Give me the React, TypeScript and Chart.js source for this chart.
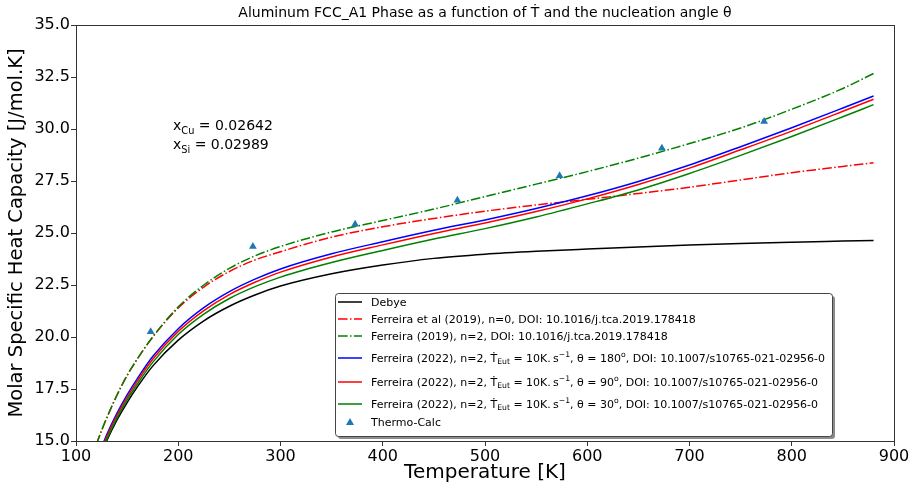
import React, { useEffect, useRef } from "react";
import { Chart, registerables } from "chart.js";

Chart.register(...registerables);

// ---- data ----
const temperatureK = [120, 125, 130, 140, 150, 160, 175, 200, 225, 250, 275, 300, 350, 400, 450, 500, 550, 600, 650, 700, 750, 800, 850, 880];
const debyeCp = [13.8, 14.4, 15.0, 16.0, 16.85, 17.6, 18.6, 19.85, 20.78, 21.48, 22.02, 22.45, 23.04, 23.46, 23.78, 23.98, 24.12, 24.23, 24.33, 24.42, 24.5, 24.56, 24.61, 24.64];
const ferreira2019n0Cp = [14.85, 15.5, 16.1, 17.2, 18.15, 18.95, 20.0, 21.4, 22.4, 23.15, 23.7, 24.1, 24.8, 25.3, 25.7, 26.05, 26.35, 26.62, 26.9, 27.2, 27.55, 27.9, 28.2, 28.38];
const ferreira2019n2Cp = [14.85, 15.5, 16.1, 17.2, 18.15, 18.95, 20.0, 21.45, 22.5, 23.3, 23.9, 24.35, 25.05, 25.6, 26.15, 26.75, 27.35, 27.95, 28.6, 29.3, 30.05, 30.95, 31.95, 32.67];
const ferreira2022theta180Cp = [14.08, 14.69, 15.3, 16.33, 17.22, 18.0, 19.06, 20.4, 21.41, 22.18, 22.78, 23.27, 24.0, 24.58, 25.13, 25.63, 26.18, 26.79, 27.48, 28.27, 29.15, 30.06, 31.01, 31.59];
const ferreira2022theta90Cp = [13.98, 14.59, 15.2, 16.22, 17.1, 17.88, 18.93, 20.27, 21.27, 22.04, 22.63, 23.12, 23.85, 24.43, 24.98, 25.48, 26.03, 26.64, 27.33, 28.12, 29.0, 29.9, 30.85, 31.43];
const ferreira2022theta30Cp = [13.88, 14.49, 15.08, 16.1, 16.98, 17.74, 18.78, 20.12, 21.1, 21.85, 22.42, 22.88, 23.58, 24.16, 24.71, 25.21, 25.77, 26.4, 27.07, 27.86, 28.73, 29.64, 30.59, 31.17];
const thermoCalcT = [173, 273, 373, 473, 573, 673, 773];
const thermoCalcCp = [20.25, 24.35, 25.42, 26.57, 27.75, 29.08, 30.36];

const xTicks = [100, 200, 300, 400, 500, 600, 700, 800, 900];
const yTicks = [15, 17.5, 20, 22.5, 25, 27.5, 30, 32.5, 35];

const titleText = "Aluminum FCC_A1 Phase as a function of \u1E6A and the nucleation angle \u03B8";
const xTitle = "Temperature [K]";
const yTitle = "Molar Specific Heat Capacity [J/mol.K]";

type Seg = { t: string; k?: "sub" | "sup" };
const annotationLines: Seg[][] = [
  [{ t: "x" }, { t: "Cu", k: "sub" }, { t: " = 0.02642" }],
  [{ t: "x" }, { t: "Si", k: "sub" }, { t: " = 0.02989" }],
];

const seriesNames = [
  "Debye",
  "Ferreira et al (2019), n=0, DOI: 10.1016/j.tca.2019.178418",
  "Ferreira (2019), n=2, DOI: 10.1016/j.tca.2019.178418",
  "Ferreira (2022), n=2, \u1E6AEut = 10K.s-1, \u03B8 = 180o, DOI: 10.1007/s10765-021-02956-0",
  "Ferreira (2022), n=2, \u1E6AEut = 10K.s-1, \u03B8 = 90o, DOI: 10.1007/s10765-021-02956-0",
  "Ferreira (2022), n=2, \u1E6AEut = 10K.s-1, \u03B8 = 30o, DOI: 10.1007/s10765-021-02956-0",
  "Thermo-Calc",
];

const rate = (angle: string): Seg[] => [
  { t: "Ferreira (2022), n=2, \u1E6A" },
  { t: "Eut", k: "sub" },
  { t: " = 10K.\u2009s" },
  { t: "\u22121", k: "sup" },
  { t: ", \u03B8 = " + angle },
  { t: "o", k: "sup" },
  { t: ", DOI: 10.1007/s10765-021-02956-0" },
];
const legendRich: Seg[][] = [
  [{ t: seriesNames[0] }],
  [{ t: seriesNames[1] }],
  [{ t: seriesNames[2] }],
  rate("180"),
  rate("90"),
  rate("30"),
  [{ t: seriesNames[6] }],
];

const seriesColors = ["#000000", "#ff0000", "#008000", "#0000ff", "#ff0000", "#008000", "#1f77b4"];
const DASHDOT = [9.6, 2.4, 1.5, 2.4];
const seriesDash = [[], DASHDOT, DASHDOT, [], [], [], []];

const FONT = '"DejaVu Sans", "Liberation Sans", sans-serif';

function drawRich(ctx: CanvasRenderingContext2D, segs: Seg[], x: number, y: number, size: number) {
  let cx = x;
  for (const s of segs) {
    let fs = size;
    let dy = 0;
    if (s.k === "sub") { fs = size * 0.7; dy = size * 0.28; }
    if (s.k === "sup") { fs = size * 0.7; dy = -size * 0.4; }
    ctx.font = `${fs}px ${FONT}`;
    ctx.fillText(s.t, cx, y + dy);
    cx += ctx.measureText(s.t).width;
  }
}

const decorPlugin = {
  id: "decor",
  afterDatasetsDraw(chart: any) {
    const { ctx, chartArea: a } = chart;
    ctx.save();
    // frame
    ctx.strokeStyle = "#333";
    ctx.lineWidth = 1;
    ctx.strokeRect(a.left + 0.5, a.top + 0.5, a.right - a.left, a.bottom - a.top);
    // title
    ctx.fillStyle = "#000";
    ctx.textAlign = "center";
    ctx.textBaseline = "alphabetic";
    ctx.font = `14px ${FONT}`;
    ctx.fillText(titleText, (a.left + a.right) / 2, a.top - 8);
    // annotation
    ctx.textAlign = "left";
    const ax = a.left + 97;
    annotationLines.forEach((line, i) => drawRich(ctx, line, ax, a.top + 105 + i * 19, 14));
    // legend
    const lx = a.left + 259;
    const ly = a.top + 268;
    const lw = 497;
    const lh = 143;
    ctx.fillStyle = "rgba(0,0,0,0.45)";
    ctx.beginPath();
    ctx.roundRect(lx + 3, ly + 3, lw, lh, 3);
    ctx.fill();
    ctx.fillStyle = "#fff";
    ctx.strokeStyle = "#444";
    ctx.beginPath();
    ctx.roundRect(lx + 0.5, ly + 0.5, lw, lh, 3);
    ctx.fill();
    ctx.stroke();
    const rowOffsets = [9, 26, 43, 65, 89, 111, 129];
    ctx.textBaseline = "middle";
    legendRich.forEach((segs, i) => {
      const y = ly + rowOffsets[i];
      ctx.strokeStyle = seriesColors[i];
      ctx.fillStyle = seriesColors[i];
      if (i < 6) {
        ctx.lineWidth = 1.5;
        ctx.setLineDash(seriesDash[i]);
        ctx.beginPath();
        ctx.moveTo(lx + 3, y);
        ctx.lineTo(lx + 27, y);
        ctx.stroke();
        ctx.setLineDash([]);
      } else {
        ctx.beginPath();
        ctx.moveTo(lx + 15, y - 4);
        ctx.lineTo(lx + 19, y + 3);
        ctx.lineTo(lx + 11, y + 3);
        ctx.closePath();
        ctx.fill();
      }
      ctx.fillStyle = "#000";
      drawRich(ctx, segs, lx + 36, y + 1, 11);
    });
    ctx.restore();
  },
};

export default function App() {
  const ref = useRef<HTMLCanvasElement | null>(null);
  useEffect(() => {
    if (!ref.current) return;
    const curves = [debyeCp, ferreira2019n0Cp, ferreira2019n2Cp, ferreira2022theta180Cp, ferreira2022theta90Cp, ferreira2022theta30Cp];
    const datasets: any[] = curves.map((vals, i) => ({
      label: seriesNames[i],
      data: temperatureK.map((t, j) => ({ x: t, y: vals[j] })),
      borderColor: seriesColors[i],
      backgroundColor: seriesColors[i],
      borderWidth: 1.5,
      borderDash: seriesDash[i],
      pointRadius: 0,
      cubicInterpolationMode: "monotone",
      fill: false,
      order: 10 - i,
    }));
    datasets.push({
      label: seriesNames[6],
      type: "scatter",
      data: thermoCalcT.map((t, j) => ({ x: t, y: thermoCalcCp[j] })),
      showLine: false,
      pointStyle: "triangle",
      pointRadius: 4.5,
      borderWidth: 0,
      backgroundColor: seriesColors[6],
      borderColor: seriesColors[6],
      order: 0,
    });
    const chart = new Chart(ref.current, {
      type: "line",
      data: { datasets },
      options: {
        animation: false,
        responsive: false,
        layout: { padding: { left: 0, right: 18, top: 25, bottom: 0 } },
        plugins: { legend: { display: false }, tooltip: { enabled: false }, title: { display: false } },
        scales: {
          x: {
            type: "linear",
            min: 100,
            max: 900,
            afterBuildTicks: (s: any) => { s.ticks = xTicks.map((v) => ({ value: v })); },
            afterFit: (s: any) => { s.height = 47; },
            ticks: { font: { size: 16, family: FONT }, color: "#000", padding: 1, maxRotation: 0, autoSkip: false },
            grid: { drawOnChartArea: false, drawTicks: true, tickLength: 5, color: "#333" },
            border: { display: true, color: "#333" },
            title: { display: true, text: xTitle, font: { size: 20, family: FONT, lineHeight: 1.2 }, color: "#000", padding: { top: 0, bottom: 3 } },
          },
          y: {
            type: "linear",
            min: 15,
            max: 35,
            afterBuildTicks: (s: any) => { s.ticks = yTicks.map((v) => ({ value: v })); },
            afterFit: (s: any) => { s.width = 76; },
            ticks: { font: { size: 16, family: FONT }, color: "#000", padding: 1, autoSkip: false, callback: (v: any) => Number(v).toFixed(1) },
            grid: { drawOnChartArea: false, drawTicks: true, tickLength: 5, color: "#333" },
            border: { display: true, color: "#333" },
            title: { display: true, text: yTitle, font: { size: 19.5, family: FONT, lineHeight: 1.2 }, color: "#000", padding: { top: 5, bottom: 0 } },
          },
        },
      },
      plugins: [decorPlugin],
    } as any);
    return () => chart.destroy();
  }, []);
  return (
    <div style={{ position: "absolute", left: 0, top: 0, width: 912, height: 488, background: "#fff" }}>
      <canvas ref={ref} width={912} height={488} style={{ display: "block" }} />
    </div>
  );
}
